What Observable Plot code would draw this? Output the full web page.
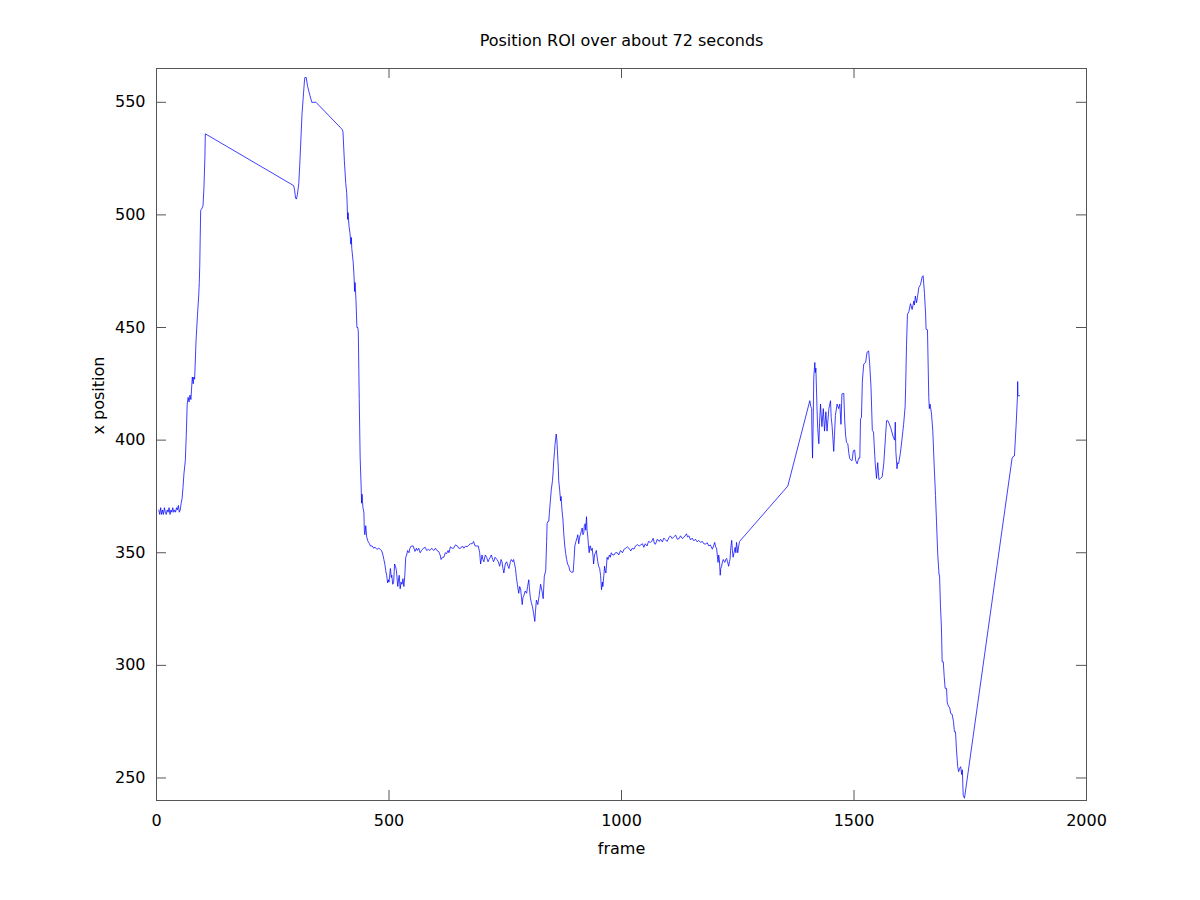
<!DOCTYPE html>
<html>
<head>
<meta charset="utf-8">
<script src="https://cdn.jsdelivr.net/npm/d3@7"></script>
<script src="https://cdn.jsdelivr.net/npm/@observablehq/plot@0.6"></script>
<style>
  html, body { margin: 0; padding: 0; background: #fff; }
  #chart svg { display: block; }
</style>
</head>
<body>
<div id="chart"></div>
<script>
const titleText = "Position ROI over about 72 seconds";
const xLabelText = "frame";
const yLabelText = "x position";
const xTicks = [0, 500, 1000, 1500, 2000];
const yTicks = [250, 300, 350, 400, 450, 500, 550];

const frames = [
  5, 7, 9, 11, 13, 15, 17, 19, 21, 23, 25, 27, 29, 31, 33, 35, 37, 39, 41, 43, 45, 47, 49, 51, 53, 55, 57, 59, 62, 64,
  66, 68, 70, 72, 74, 77, 79, 80, 82, 85, 88, 91, 92, 93, 94, 95, 98, 100, 102, 104, 105,
  295, 297, 299, 301, 303, 306, 308, 310, 313, 315.5, 318, 319, 322, 325, 330, 334, 343, 399,
  401, 404, 407, 409, 410, 411, 412, 414, 416, 418, 419, 420, 423, 425, 426, 427, 429, 431, 433, 434, 436, 438, 440, 441, 442, 444, 446, 447, 448, 450, 452, 455, 458, 460, 464, 467, 470, 474, 478, 481, 484, 487, 489, 491, 493, 495, 497, 499, 500,
  502, 503, 505, 506, 508, 510, 512, 514, 516, 518, 519, 521, 522, 524, 526, 528, 530, 532, 534, 536, 538, 540, 543, 545, 548, 552, 556, 559, 561, 564, 567, 570, 574, 578, 581, 585, 588, 592, 596, 600,
  603, 607, 610, 612, 615, 618, 621, 624, 627, 629, 632, 636, 639, 643, 647, 650, 654, 658, 661, 665, 668, 672, 675, 679, 682, 685, 688, 692, 695, 697, 700,
  702, 704, 707, 710, 713, 715, 718, 720, 723, 725, 728, 732, 735, 738, 741, 743, 745, 747, 750, 753, 756, 758, 761, 763, 766, 768, 770, 772, 774, 776, 779, 781, 783, 785, 786.5, 788, 790, 793, 796, 798, 800.7,
  802, 804, 806, 808.6, 811, 813.6, 815, 817, 820, 823, 826, 829, 831.6, 834, 837, 839, 840, 842, 843.7, 845, 847, 849, 851.6, 853, 854.4, 856, 857, 859.6, 861, 862, 864, 865, 867, 869, 870, 872, 874, 876, 878, 880,
  882, 884, 886.7, 889, 891.8, 896, 898, 899.6, 902, 904.7, 906, 908, 910, 911.6, 914, 915.5, 917, 919, 920, 922, 923, 924.7, 926, 927.6, 929, 930.5, 932, 933, 935, 937, 939, 940, 942, 944, 946, 947, 949, 951, 953, 955,
  957, 959, 960, 962, 963.6, 965, 966.5, 968, 969, 971, 974, 976, 978, 981, 984, 987, 991, 994, 998, 1002, 1005.7, 1009, 1012.9, 1016, 1020, 1023, 1027, 1030, 1034.4, 1038, 1041.6, 1045, 1048, 1051, 1055, 1058,
  1062, 1065, 1068, 1071, 1073, 1077, 1081, 1084, 1088, 1091, 1095, 1098, 1102, 1105, 1109, 1112, 1116.6, 1120, 1124, 1127, 1131, 1135, 1139.8, 1142, 1145, 1148.4, 1152, 1155.6, 1159, 1162.8, 1166, 1170, 1174, 1177,
  1181, 1184, 1188, 1191, 1195.4, 1198, 1200.4, 1202, 1204.7, 1206, 1207.6, 1209, 1210.5, 1212.3, 1213.5, 1215.4, 1217, 1219, 1221, 1222.5, 1224, 1226, 1228, 1230.5, 1232, 1233.3, 1235, 1237, 1238.5, 1240, 1242,
  1244.4, 1246, 1247.3, 1249, 1250, 1252, 1253.8,
  1357.6, 1405, 1407, 1409, 1409.3, 1410.8, 1412, 1413.5, 1415.7, 1417, 1418, 1420.8, 1422, 1424.4, 1426, 1428, 1431, 1434, 1436.6, 1439.5, 1442, 1446, 1449.5, 1451, 1453, 1456.4, 1458, 1460, 1463.7, 1467, 1469.5,
  1472, 1474, 1478, 1480, 1482, 1483.9, 1486.7, 1489, 1491, 1494, 1496, 1498.6, 1501.5, 1503.5, 1506.7, 1510, 1512.5, 1514, 1516, 1518, 1521, 1525, 1528, 1531.5, 1533.7, 1536.6, 1539.4, 1542, 1545.5, 1548.4, 1551,
  1553.5, 1557, 1560.6, 1564, 1567.7, 1570, 1573, 1578.7, 1584.5, 1587.4, 1588.8, 1590, 1592.5, 1594, 1596, 1599.6, 1603, 1606.7, 1610, 1611, 1613, 1615, 1618, 1621.5, 1625, 1628.7, 1630, 1632, 1634.4, 1636.5,
  1639.4, 1643, 1646.6, 1648.7, 1651.6, 1654, 1655, 1658, 1660.8, 1662, 1663.6, 1666.7, 1669.5, 1672, 1675.3, 1677.4, 1680, 1683, 1684, 1686, 1688, 1689.6, 1692, 1694, 1696, 1699, 1700.5, 1703, 1706, 1708, 1711,
  1714, 1716, 1718.3, 1720.4, 1723, 1725, 1727.3, 1729.4, 1731.6, 1733, 1734.8, 1737.6,
  1840, 1843.7, 1845, 1848.6, 1851.6, 1852, 1852.5, 1856
];

const xpos = [
  369, 367, 370, 367, 369, 367, 370, 368, 367, 369, 368, 370, 367, 369, 368, 370, 368, 369, 368, 370, 369, 371, 368, 369, 372, 374, 379, 385, 391, 402,
  416, 419, 417, 420, 418, 428, 425, 428, 427, 444, 455, 465, 470, 477, 490, 502, 503, 504, 512, 525, 536,
  513, 511, 507.5, 507, 509, 514, 522, 531, 545, 552, 559, 561, 561, 557, 553, 550, 550, 538,
  537, 524, 514, 510, 505, 498, 501, 495, 492, 487, 490, 485, 479, 472, 466, 470, 462, 450, 450, 448, 418, 392, 380, 372, 376, 370, 368, 360, 358, 362, 357, 355, 354, 353, 353, 352, 352.5, 351.5, 352, 351.5, 351, 349, 347, 345, 342, 340, 336.6, 338, 337,
  341, 343, 339, 340, 336, 337, 345, 344, 342, 337, 335, 339, 340, 334, 337, 336, 338.5, 335, 340, 348, 349, 351, 350, 352, 353, 353, 350.6, 352, 351, 352, 350, 351, 352, 352.4, 351, 351.5, 351, 352, 351, 352,
  351, 350.5, 349, 347, 348, 348, 350, 349.6, 351, 350, 352.6, 352, 352, 353.5, 353, 352, 352, 353, 352, 353, 352.6, 353.5, 354, 354, 355, 353, 353, 353, 350, 345, 349,
  347, 346, 349, 348, 346, 347, 348, 349, 347, 346, 348, 347, 346, 344, 347, 346, 343, 341, 345, 346, 344, 343, 346, 347, 346, 347, 345, 343, 339, 336, 332, 335, 334, 330, 327, 330, 331, 333, 332, 335, 338,
  334, 330, 328, 326, 323, 319.5, 324, 329, 327, 331, 336, 333, 329.6, 339.6, 342, 355, 363, 364, 364, 368, 373, 378, 382, 386, 391, 395, 398, 402.7, 400, 396, 388, 382, 378, 373, 375, 369, 365, 358, 353, 349.6,
  347, 345, 344, 342, 341.4, 341.4, 347, 353, 355, 356.8, 358, 354, 357, 358, 360, 361, 358, 359, 362, 362.9, 360, 366, 360, 357, 353, 350, 353, 353, 351, 352, 348, 345, 349, 350, 351, 349, 346, 344, 343, 340,
  333.6, 337, 335, 340, 344, 342, 341, 345, 348, 347, 349, 348, 350, 349, 349, 350, 350, 349, 351, 350, 351.6, 352, 352.6, 352, 350.8, 352, 351.6, 353, 353.6, 353, 353.5, 354, 352.4, 354, 353, 355,
  354.6, 355, 356.4, 354, 353.8, 356, 355, 356, 354.8, 356.5, 355.7, 355, 356.7, 357.5, 356.3, 357, 357.8, 356, 356.3, 357.5, 356.3, 357, 358.4, 357, 357.5, 355.7, 356.5, 355.3, 356, 354.8, 355.5, 354.6, 355, 354,
  353.8, 354.5, 353, 353.5, 351.6, 353, 354.6, 353, 351.6, 349, 345.7, 349, 347, 340, 343, 344, 346, 347, 346, 345.7, 347, 347.5, 346, 344, 346, 347, 352, 355.5, 351, 348, 350,
  352.4, 350, 354.6, 352, 350, 353, 355,
  379.6, 417.5, 415, 414, 406, 392, 405, 427.8, 434.5, 430, 432, 411.6, 405, 398.4, 408, 416, 406, 414, 404, 412.6, 404, 414, 417.5, 410, 406, 395, 402, 411, 416, 414, 416,
  407, 420.5, 420.8, 408.7, 402, 399, 398.4, 394, 391.7, 391, 391, 395.3, 395.6, 391, 389.5, 392, 392, 409.4, 410, 426.2, 433.8, 434.5, 439, 439.6, 434, 423.4, 404.3, 403.6, 390, 383, 390,
  382.5, 383, 383.7, 389.5, 401.3, 408.6, 408.6, 405.7, 401.3, 400, 408, 395, 387.3, 390, 389.6, 394, 400, 407, 415, 423, 442.6, 455.9, 457, 460.6, 458, 461.8, 460, 464, 461, 463.4,
  467.8, 469, 472.5, 473, 465, 456, 449.2, 449, 419, 414, 416, 411.6, 404, 390.8, 375.4, 364, 349.6, 340, 340, 326, 317, 301.6, 301.6, 295, 289.8, 289.8, 283.4, 282, 281, 278.6, 278.3,
  275, 270.5, 270.5, 262.4, 255, 252.8, 254.3, 255, 251.5, 253.6, 242.4, 241,
  392, 393, 393, 406.5, 419.7, 426, 419.7, 419.7
];

const points = frames.map((f, i) => ({frame: f, x: xpos[i]}));

const axisColor = "#555";
const font = "DejaVu Sans, sans-serif";
const fs = 16;

const chart = Plot.plot({
  width: 1200,
  height: 900,
  marginLeft: 156,
  marginRight: 114,
  marginTop: 68,
  marginBottom: 100,
  style: {fontFamily: font, fontSize: fs + "px", color: "#000", background: "#fff"},
  x: {domain: [0, 2000], label: null},
  y: {domain: [240, 565], label: null},
  marks: [
    Plot.frame({stroke: axisColor, strokeWidth: 1}),
    // inward ticks (gnuplot style, mirrored on all four sides)
    Plot.tickY(yTicks, {y: d => d, stroke: axisColor, insetRight: 920}),
    Plot.tickY(yTicks, {y: d => d, stroke: axisColor, insetLeft: 920}),
    Plot.tickX(xTicks, {x: d => d, stroke: axisColor, insetTop: 722}),
    Plot.tickX(xTicks, {x: d => d, stroke: axisColor, insetBottom: 722}),
    Plot.axisX({ticks: xTicks, tickSize: 0, tickPadding: 14, tickFormat: d => String(d), fontSize: fs, label: null, fill: "#000"}),
    Plot.axisY({ticks: yTicks, tickSize: 0, tickPadding: 11, tickFormat: d => String(d), fontSize: fs, label: null, fill: "#000"}),
    Plot.line(points, {x: "frame", y: "x", stroke: "#0000ff", strokeWidth: 0.75}),
    Plot.text([titleText], {frameAnchor: "top", dy: -28, text: d => d, fontSize: fs, lineAnchor: "middle", fill: "#000"}),
    Plot.text([xLabelText], {frameAnchor: "bottom", dy: 48, text: d => d, fontSize: fs, lineAnchor: "middle", fill: "#000"}),
    Plot.text([yLabelText], {frameAnchor: "left", dx: -58, rotate: -90, text: d => d, fontSize: fs, lineAnchor: "middle", fill: "#000"})
  ]
});

document.getElementById("chart").appendChild(chart);
</script>
</body>
</html>
